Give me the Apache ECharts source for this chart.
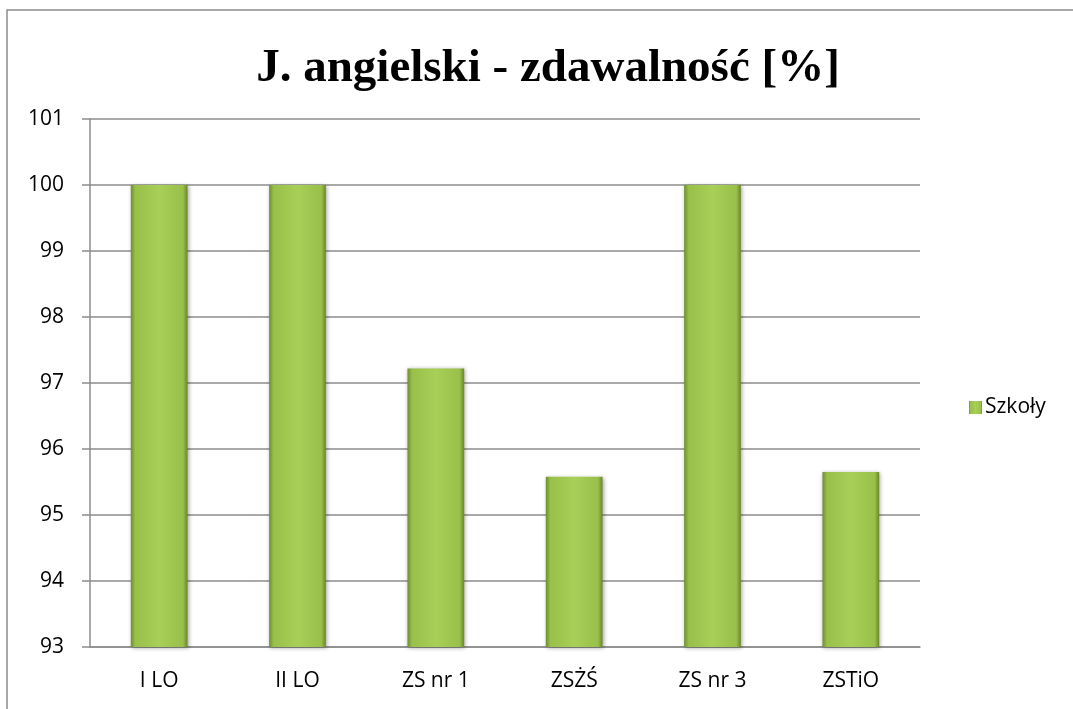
<!DOCTYPE html>
<html>
<head>
<meta charset="utf-8">
<script src="https://cdn.jsdelivr.net/npm/echarts@6/dist/echarts.min.js"></script>
<style>
  html, body { margin: 0; padding: 0; background: #fff; }
  #chart { width: 1073px; height: 709px; }
</style>
</head>
<body>
<div id="chart"></div>
<script>
const schools = ['I LO', 'II LO', 'ZS nr 1', 'ZSŻŚ', 'ZS nr 3', 'ZSTiO'];
const passRate = [100, 100, 97.22, 95.58, 100, 95.65];
const seriesName = 'Szkoły';

const barColor = new echarts.graphic.LinearGradient(0, 0, 1, 0, [
  { offset: 0, color: '#6f8d2e' },
  { offset: 0.08, color: '#98c04a' },
  { offset: 0.5, color: '#a8cf57' },
  { offset: 0.92, color: '#98c04a' },
  { offset: 1, color: '#6a862b' }
]);

let myChart = echarts.init(document.getElementById('chart'));
myChart.setOption({
  animation: false,
  backgroundColor: '#fff',
  graphic: [
    {
      type: 'rect',
      shape: { x: 7, y: 10, width: 1080, height: 720 },
      style: { fill: 'none', stroke: '#8c8c8c', lineWidth: 1.5 },
      silent: true,
      z: -1
    }
  ],
  title: {
    text: 'J. angielski - zdawalność [%]',
    left: 543,
    textAlign: 'center',
    top: 40,
    textStyle: {
      fontFamily: 'Liberation Serif',
      fontWeight: 'bold',
      fontSize: 47,
      color: '#000'
    }
  },
  legend: {
    left: 964,
    top: 392,
    itemWidth: 13,
    itemHeight: 13,
    itemGap: 4,
    data: [{ name: seriesName, icon: 'rect' }],
    textStyle: { fontFamily: 'Open Sans', fontSize: 21, color: '#000', padding: [0, 0, 0, -2] }
  },
  grid: { left: 90, right: 153, top: 119, bottom: 62 },
  xAxis: {
    type: 'category',
    data: schools,
    axisLine: { lineStyle: { color: '#8c8c8c', width: 1.5 } },
    axisTick: { length: 9, lineStyle: { color: '#8c8c8c', width: 1.5 } },
    axisLabel: { fontFamily: 'Open Sans', fontSize: 21, color: '#000', margin: 24 }
  },
  yAxis: {
    type: 'value',
    min: 93,
    max: 101,
    interval: 1,
    axisLine: { show: true, lineStyle: { color: '#8c8c8c', width: 1.5 } },
    axisTick: { show: true, length: 8, lineStyle: { color: '#8c8c8c', width: 1.5 } },
    axisLabel: { fontFamily: 'Open Sans', fontSize: 21, color: '#000', margin: 26 },
    splitLine: { lineStyle: { color: '#8c8c8c', width: 1.5 } }
  },
  series: [
    {
      name: seriesName,
      type: 'bar',
      barWidth: '41%',
      data: passRate,
      itemStyle: {
        color: barColor,
        shadowColor: 'rgba(0,0,0,0.35)',
        shadowBlur: 4,
        shadowOffsetX: 1,
        shadowOffsetY: 1
      }
    }
  ]
});
</script>
</body>
</html>
